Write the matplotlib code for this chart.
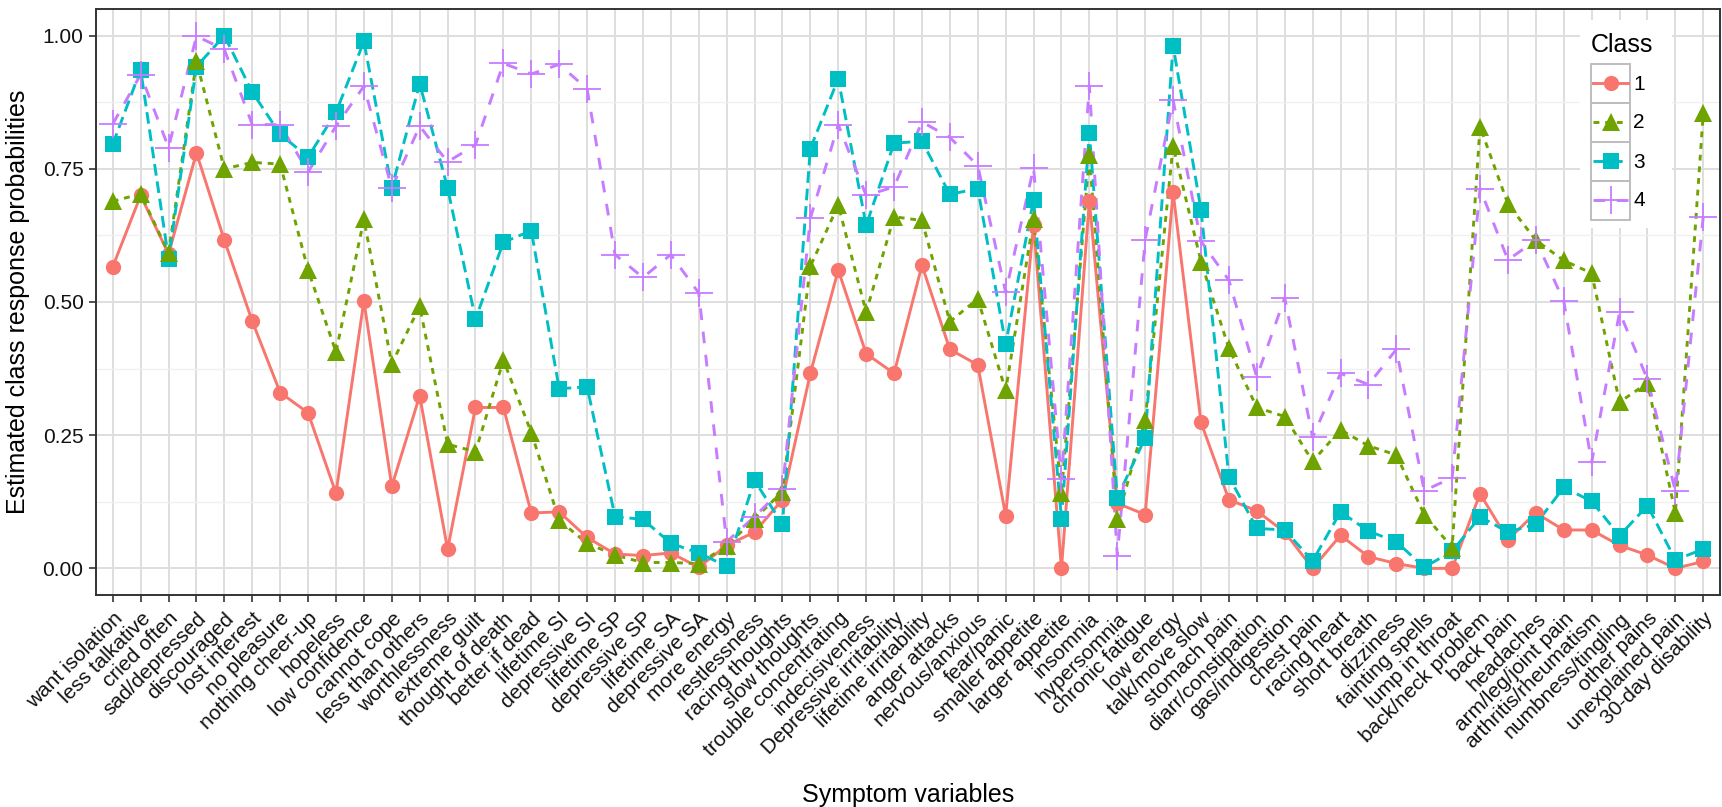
import numpy as np
import matplotlib
matplotlib.use("Agg")
import matplotlib.pyplot as plt
from matplotlib.patches import Rectangle
from matplotlib.lines import Line2D

plt.rcParams['font.family'] = ['Liberation Sans', 'DejaVu Sans']

symptoms = [
    "want isolation", "less talkative", "cried often", "sad/depressed", "discouraged",
    "lost interest", "no pleasure", "nothing cheer-up", "hopeless", "low confidence",
    "cannot cope", "less than others", "worthlessness", "extreme guilt", "thought of death",
    "better if dead", "lifetime SI", "depressive SI", "lifetime SP", "depressive SP",
    "lifetime SA", "depressive SA", "more energy", "restlessness", "racing thoughts",
    "slow thoughts", "trouble concentrating", "indecisiveness", "Depressive irritability",
    "lifetime irritability", "anger attacks", "nervous/anxious", "fear/panic",
    "smaller appetite", "larger appetite", "insomnia", "hypersomnia", "chronic fatigue",
    "low energy", "talk/move slow", "stomach pain", "diarr/constipation", "gas/indigestion",
    "chest pain", "racing heart", "short breath", "dizziness", "fainting spells",
    "lump in throat", "back/neck problem", "back pain", "headaches", "arm/leg/joint pain",
    "arthritis/rheumatism", "numbness/tingling", "other pains", "unexplained pain",
    "30-day disability",
]

class1 = [0.566, 0.700, 0.590, 0.780, 0.616, 0.464, 0.330, 0.292, 0.141, 0.502,
          0.154, 0.324, 0.036, 0.302, 0.302, 0.104, 0.106, 0.058, 0.027, 0.024,
          0.029, 0.002, 0.043, 0.068, 0.129, 0.366, 0.560, 0.403, 0.366, 0.569,
          0.411, 0.382, 0.099, 0.645, 0.000, 0.690, 0.122, 0.101, 0.706, 0.274,
          0.129, 0.108, 0.068, 0.000, 0.062, 0.022, 0.009, 0.000, 0.000, 0.140,
          0.054, 0.104, 0.072, 0.072, 0.043, 0.025, 0.000, 0.013]
class2 = [0.689, 0.703, 0.592, 0.952, 0.750, 0.762, 0.759, 0.560, 0.406, 0.655,
          0.384, 0.492, 0.233, 0.219, 0.391, 0.255, 0.090, 0.047, 0.025, 0.011,
          0.011, 0.009, 0.042, 0.093, 0.144, 0.567, 0.682, 0.481, 0.660, 0.653,
          0.463, 0.506, 0.334, 0.655, 0.142, 0.776, 0.092, 0.278, 0.793, 0.576,
          0.413, 0.302, 0.285, 0.201, 0.260, 0.230, 0.213, 0.101, 0.039, 0.829,
          0.684, 0.616, 0.578, 0.554, 0.312, 0.348, 0.104, 0.854]
class3 = [0.796, 0.936, 0.581, 0.942, 1.000, 0.894, 0.815, 0.772, 0.856, 0.989,
          0.714, 0.910, 0.714, 0.468, 0.612, 0.634, 0.337, 0.341, 0.097, 0.092,
          0.047, 0.029, 0.004, 0.165, 0.083, 0.788, 0.919, 0.644, 0.798, 0.802,
          0.702, 0.713, 0.421, 0.692, 0.092, 0.818, 0.133, 0.245, 0.981, 0.673,
          0.172, 0.075, 0.072, 0.014, 0.106, 0.070, 0.050, 0.002, 0.032, 0.097,
          0.068, 0.083, 0.152, 0.126, 0.061, 0.118, 0.016, 0.036]
class4 = [0.834, 0.927, 0.790, 0.999, 0.974, 0.833, 0.833, 0.744, 0.830, 0.905,
          0.714, 0.830, 0.763, 0.795, 0.948, 0.928, 0.946, 0.900, 0.589, 0.546,
          0.589, 0.517, 0.050, 0.097, 0.149, 0.657, 0.833, 0.700, 0.716, 0.838,
          0.809, 0.756, 0.518, 0.752, 0.167, 0.906, 0.024, 0.617, 0.879, 0.614,
          0.541, 0.359, 0.508, 0.246, 0.366, 0.345, 0.411, 0.146, 0.170, 0.713,
          0.579, 0.616, 0.502, 0.199, 0.481, 0.355, 0.145, 0.660]

class_labels = ["1", "2", "3", "4"]

# ggplot-like styling per class
styles = [
    dict(color='#F8766D', ls='-', marker='o', ms=11, mew=0, zp=5),
    dict(color='#6FA300', ls=(0, (2, 2)), marker='^', ms=13, mew=0, zp=7),
    dict(color='#00BFC4', ls=(0, (4, 2)), marker='s', ms=12, mew=0, zp=6),
    dict(color='#C77CFF', ls=(0, (4, 4)), marker='+', ms=20, mew=1.3, zp=8),
]
series = [class1, class2, class3, class4]
LW = 2.1

fig = plt.figure(figsize=(17.22, 8.07), dpi=100)
ax = fig.add_axes([96 / 1722, 1 - 595 / 807, 1624 / 1722, 586 / 807])

x = np.arange(len(symptoms))
for vals, st in zip(series, styles):
    ax.plot(x, vals, color=st['color'], ls=st['ls'], lw=LW, zorder=3)
for vals, st in zip(series, styles):
    ax.plot(x, vals, ls='none', marker=st['marker'], ms=st['ms'], color=st['color'],
            mew=st['mew'], zorder=st['zp'])

ax.set_xlim(-0.6, len(symptoms) - 0.4)
ax.set_ylim(-0.05, 1.05)
ax.set_xticks(x)
ax.set_xticklabels(symptoms, rotation=45, ha='right', va='top', rotation_mode='anchor')
ax.set_yticks([0, 0.25, 0.5, 0.75, 1.0])
ax.set_yticklabels(["0.00", "0.25", "0.50", "0.75", "1.00"])
ax.set_yticks([0.125, 0.375, 0.625, 0.875], minor=True)

ax.grid(True, which='major', color='#DEDEDE', lw=1.4, zorder=0)
ax.grid(True, which='minor', axis='y', color='#F0F0F0', lw=1.0, zorder=0)
ax.set_axisbelow(True)

for sp in ax.spines.values():
    sp.set_color('#333333')
    sp.set_linewidth(1.4)
ax.tick_params(axis='both', which='major', direction='out', length=5, width=1.2,
               color='#333333', labelsize=15, labelcolor='#111111')
ax.tick_params(axis='x', which='major', pad=5)
ax.tick_params(axis='y', which='major', pad=4)
ax.tick_params(axis='y', which='minor', length=0)

ax.set_xlabel("Symptom variables", fontsize=18, labelpad=16)
ax.set_ylabel("Estimated class response probabilities", fontsize=18, labelpad=9)

# legend drawn as ggplot-style keys in a small overlay axes (pixel units)
lg = fig.add_axes([1580 / 1722, 1 - 228 / 807, 92 / 1722, 208 / 807])
lg.set_xlim(0, 92)
lg.set_ylim(208, 0)
lg.axis('off')
lg.add_patch(Rectangle((0, 0), 92, 208, facecolor='white', edgecolor='none', zorder=0))
lg.text(11, 25, "Class", fontsize=18, va='center', ha='left')
key_top = 43.5
key_h = 39
for i, (lab, st) in enumerate(zip(class_labels, styles)):
    y0 = key_top + i * key_h
    lg.add_patch(Rectangle((11, y0), 39, key_h, facecolor='white',
                           edgecolor='#BDBDBD', lw=1.4, zorder=1))
    lg.add_line(Line2D([13, 48], [y0 + key_h / 2] * 2, color=st['color'],
                       ls=st['ls'], lw=LW, zorder=2))
    lg.plot([30.5], [y0 + key_h / 2], ls='none', marker=st['marker'], ms=st['ms'],
            color=st['color'], mew=st['mew'], zorder=3)
    lg.text(53, y0 + key_h / 2 + 1, lab, fontsize=15, va='center', ha='left')

fig.savefig("out.png", dpi=100)
